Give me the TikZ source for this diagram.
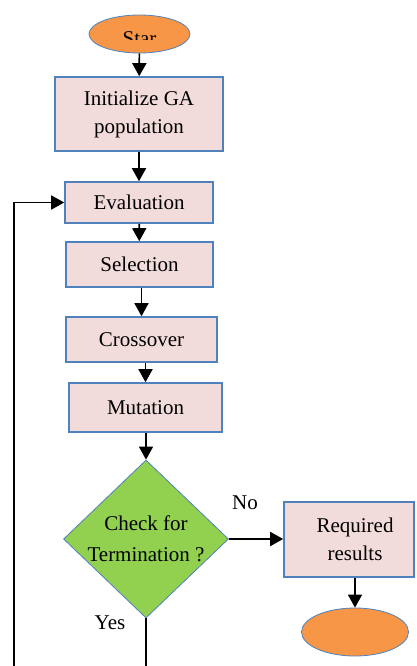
\documentclass[tikz,border=0pt]{standalone}
\usepackage{fontspec}
\setmainfont{Liberation Serif}
\usepackage{tikz}
\usetikzlibrary{
    arrows.meta,
    positioning,
    shapes.geometric
}
\definecolor{ink}{RGB}{0,0,0}
\definecolor{boxline}{RGB}{79,129,189}
\definecolor{boxfill}{RGB}{242,220,219}
\definecolor{termfill}{RGB}{247,150,70}
\definecolor{checkfill}{RGB}{146,208,80}
\tikzset{
    stepbox/.style={
        rectangle,
        draw=boxline,
        line width=1.6pt,
        fill=boxfill,
        text=ink,
        inner sep=0pt,
        align=center,
        font=\fontsize{21}{28}\selectfont
    },
    terminal/.style={
        ellipse,
        draw=boxline,
        line width=0.8pt,
        fill=termfill,
        inner sep=0pt
    },
    decision/.style={
        diamond,
        draw=boxline,
        line width=0.8pt,
        fill=checkfill,
        inner sep=0pt,
        minimum width=165pt,
        minimum height=158pt
    },
    dectext/.style={
        align=center,
        text=ink,
        inner sep=0pt,
        font=\fontsize{21}{31}\selectfont
    },
    flowarrow/.style={
        -{Triangle[length=13pt,width=14pt]},
        draw=ink,
        line width=1.7pt
    },
    annot/.style={
        text=ink,
        font=\fontsize{21}{25}\selectfont
    }
}

\begin{document}
\begin{tikzpicture}[x=1pt, y=-1pt]
\useasboundingbox (0,0) rectangle (416,666);

% Start
\node[terminal, minimum width=101pt, minimum height=38pt] (start) at (139.5,34) {};
\begin{scope}
    \clip (0,0) rectangle (416,39.5);
    \node[annot, anchor=base] (starttxt) at (139.5,45.5) {Star};
\end{scope}

% GA steps
\node[stepbox, minimum width=168pt, minimum height=74pt] (init) at (139,114) {Initialize GA\\population};
\node[stepbox, minimum width=148pt, minimum height=41pt] (eval) at (139,202.5) {Evaluation};
\node[stepbox, minimum width=147pt, minimum height=45pt] (sel) at (139.5,264.5) {Selection};
\node[stepbox, minimum width=151pt, minimum height=45pt] (cross) at (141.5,339.5) {Crossover};
\node[stepbox, minimum width=153pt, minimum height=49pt] (mut) at (145.5,407.5) {Mutation};

% Termination test
\node[decision, label={[dectext]center:{Check for\\Termination ?}}] (check) at (146,539) {};
\node[stepbox, minimum width=130pt, minimum height=75pt] (req) at (349,539.5) {\hspace*{12pt}Required\\\hspace*{12pt}results};
\node[terminal, minimum width=107pt, minimum height=48pt] (stop) at (355,632) {};

\node[annot] (nolbl) at (245,503) {No};
\node[annot] (yeslbl) at (110,623) {Yes};

\coordinate (loopcorner) at (14,700);

% Connectors
\draw[flowarrow] (start) -- (init);
\draw[flowarrow] (init) -- (eval);
\draw[flowarrow] (eval) -- (sel);
\draw[flowarrow] (cross.north |- sel.south) -- (cross.north);
\draw[flowarrow] (mut.north |- cross.south) -- (mut.north);
\draw[flowarrow] (check.north |- mut.south) -- (check.north);
\draw[flowarrow] (check.east) -- (check.east -| req.west);
\draw[flowarrow] (stop.north |- req.south) -- (stop.north);
\draw[flowarrow] (check.south) |- (loopcorner) |- (eval.west);

\end{tikzpicture}
\end{document}
